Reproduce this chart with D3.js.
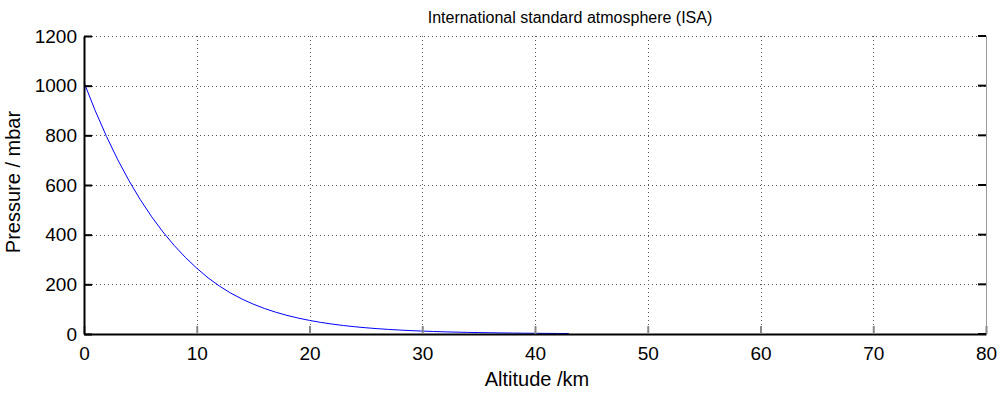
<!DOCTYPE html>
<html>
<head>
<meta charset="utf-8">
<script src="https://cdn.jsdelivr.net/npm/d3@7"></script>
<style>
  body { margin: 0; background: #fff; }
  svg { display: block; font-family: "Liberation Sans", Arial, sans-serif; }
</style>
</head>
<body>
<svg id="chart" width="1000" height="394"></svg>
<script>
// altitude in km, pressure in mbar (ISA)
const altitude = [0, 1, 2, 3, 4, 5, 6, 7, 8, 9, 10, 11, 12, 13, 14, 15, 16, 17, 18, 19, 20,
  21, 22, 23, 24, 25, 26, 27, 28, 29, 30, 31, 32, 33, 34, 35, 36, 37, 38, 39, 40, 41, 42, 43];
const pressure = [1013.25, 898.76, 795.01, 701.21, 616.6, 540.48, 472.17, 411.05, 356.51, 308.0, 264.99,
  226.32, 193.3, 165.1, 141.0, 120.45, 102.87, 87.88, 75.05, 64.1, 54.75,
  46.78, 39.99, 34.2, 29.3, 25.11, 21.53, 18.47, 15.86, 13.63, 11.72,
  10.09, 8.68, 7.5, 6.49, 5.75, 4.98, 4.32, 3.76, 3.27, 2.87, 2.5, 2.19, 1.92];
const xTicks = [0, 10, 20, 30, 40, 50, 60, 70, 80];
const yTicks = [0, 200, 400, 600, 800, 1000, 1200];

const svg = d3.select("#chart");
const plotL = 84, plotR = 986, plotT = 36, plotB = 334;

const x = d3.scaleLinear().domain([0, 80]).range([plotL, plotR]);
const y = d3.scaleLinear().domain([0, 1200]).range([plotB, plotT]);

// grid lines
const grid = svg.append("g")
  .attr("stroke", "#555")
  .attr("stroke-width", 1)
  .attr("stroke-dasharray", "1,3")
  .attr("shape-rendering", "crispEdges");
grid.selectAll("line.gx")
  .data(xTicks.slice(1, -1))
  .enter().append("line")
  .attr("x1", d => Math.round(x(d)) + 0.5).attr("x2", d => Math.round(x(d)) + 0.5)
  .attr("y1", plotT).attr("y2", plotB);
grid.selectAll("line.gy")
  .data(yTicks.slice(1))
  .enter().append("line")
  .attr("y1", d => Math.round(y(d)) + 0.5).attr("y2", d => Math.round(y(d)) + 0.5)
  .attr("x1", plotL).attr("x2", plotR);

// right box edge
svg.append("line")
  .attr("x1", plotR + 0.5).attr("x2", plotR + 0.5)
  .attr("y1", plotT).attr("y2", plotB)
  .attr("stroke", "#999").attr("shape-rendering", "crispEdges");

// curve
const line = d3.line()
  .x((d, i) => x(altitude[i]))
  .y(d => y(d));
svg.append("path")
  .datum(pressure)
  .attr("d", line)
  .attr("fill", "none")
  .attr("stroke", "#0000ff")
  .attr("stroke-width", 1);

// axes with inward ticks
const xAxis = svg.append("g")
  .attr("transform", `translate(0,${plotB})`)
  .call(d3.axisBottom(x).tickValues(xTicks).tickFormat(d3.format("d"))
    .tickSizeInner(-8).tickSizeOuter(0).tickPadding(13));
const yAxis = svg.append("g")
  .attr("transform", `translate(${plotL},0)`)
  .call(d3.axisLeft(y).tickValues(yTicks).tickFormat(d3.format("d"))
    .tickSizeInner(-8).tickSizeOuter(0).tickPadding(7));
[xAxis, yAxis].forEach(g => {
  g.select(".domain").attr("stroke", "#000").attr("stroke-width", 2);
  g.selectAll(".tick line").attr("stroke", "#000").attr("stroke-width", 2);
  g.selectAll(".tick text")
    .attr("fill", "#000")
    .style("font-size", "19px")
    .style("font-family", "'Liberation Sans', Arial, sans-serif");
});
xAxis.selectAll(".tick line").attr("stroke", "#888");

// right axis ticks
svg.append("g").selectAll("line")
  .data(yTicks)
  .enter().append("line")
  .attr("x1", plotR - 8).attr("x2", plotR)
  .attr("y1", d => y(d)).attr("y2", d => y(d))
  .attr("stroke", "#000").attr("stroke-width", 2);

// title and labels
svg.append("text")
  .attr("x", 570).attr("y", 23)
  .attr("text-anchor", "middle")
  .style("font-size", "16px")
  .text("International standard atmosphere (ISA)");
svg.append("text")
  .attr("x", 537).attr("y", 386)
  .attr("text-anchor", "middle")
  .style("font-size", "20px")
  .text("Altitude /km");
svg.append("text")
  .attr("transform", "translate(20,182) rotate(-90)")
  .attr("text-anchor", "middle")
  .style("font-size", "20px")
  .text("Pressure / mbar");
</script>
</body>
</html>
